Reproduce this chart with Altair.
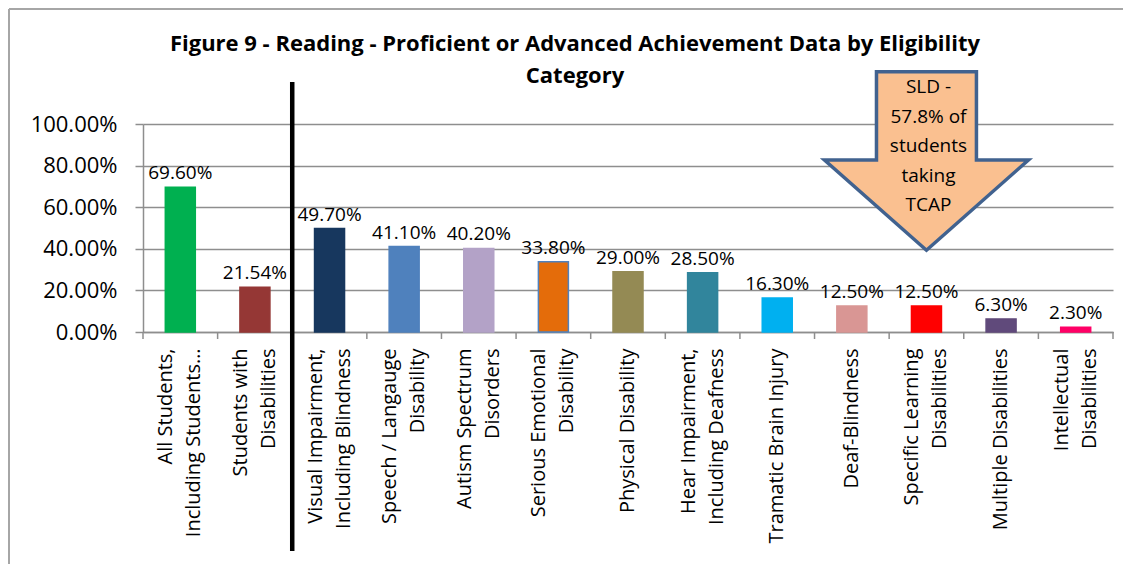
import altair as alt
import pandas as pd

# ---------------- data ----------------
label_lines = [
    ["All Students,", "Including Students…"],
    ["Students with", "Disabilities"],
    ["Visual Impairment,", "Including Blindness"],
    ["Speech / Langauge", "Disability"],
    ["Autism Spectrum", "Disorders"],
    ["Serious Emotional", "Disability"],
    ["Physical Disability"],
    ["Hear Impairment,", "Including Deafness"],
    ["Tramatic Brain Injury"],
    ["Deaf-Blindness"],
    ["Specific Learning", "Disabilities"],
    ["Multiple Disabilities"],
    ["Intellectual", "Disabilities"],
]
values = [0.696, 0.2154, 0.497, 0.411, 0.402, 0.338, 0.290, 0.285, 0.163, 0.125, 0.125, 0.063, 0.023]
colors = ["#00B050", "#953735", "#17375E", "#4F81BD", "#B3A2C7", "#E46C0A", "#948A54",
          "#31859C", "#00B0F0", "#D99694", "#FF0000", "#604A7B", "#FF0066"]
strokes = ["#00B050", "#953735", "#17375E", "#4F81BD", "#B3A2C7", "#4F81BD", "#948A54",
           "#31859C", "#00B0F0", "#D99694", "#FF0000", "#604A7B", "#FF0066"]
title_lines = ["Figure 9 - Reading - Proficient or Advanced Achievement Data by Eligibility", "Category"]
callout_lines = ["SLD -", "57.8% of", "students", "taking", "TCAP"]
callout_category = 10   # Specific Learning Disabilities
divider_category = 2    # divider before Visual Impairment

categories = ["|".join(l) for l in label_lines]
df = pd.DataFrame({"cat": categories, "value": values, "color": colors, "stroke": strokes})

FONT = "Open Sans"
GRID = "#8E8E8E"
W, H = 970, 208
LABEL_LH = 28

xenc = alt.X("cat:N", sort=categories, title=None,
             scale=alt.Scale(paddingInner=0, paddingOuter=0),
             axis=alt.Axis(labelExpr="split(datum.label, '|')", labelAngle=-90,
                           labelAlign="right", labelBaseline="middle",
                           labelFont=FONT, labelFontSize=20, labelLineHeight=LABEL_LH,
                           labelOffset={"condition": {"test": "indexof(datum.value, '|') >= 0",
                                                      "value": -LABEL_LH / 2},
                                        "value": 0},
                           labelColor="black", labelPadding=16, ticks=False, tickSize=0,
                           domain=True, domainColor=GRID, domainWidth=1.5,
                           labelLimit=400, labelOverlap=False))

base = alt.Chart(df)

bars = base.mark_bar(size=30, strokeWidth=1.5).encode(
    x=xenc,
    y=alt.Y("value:Q", title=None,
            scale=alt.Scale(domain=[0, 1], nice=False),
            axis=alt.Axis(values=[0, 0.2, 0.4, 0.6, 0.8, 1.0], format=".2%",
                          labelFont=FONT, labelFontSize=22, labelColor="black",
                          labelPadding=18, tickSize=8, tickColor=GRID, tickWidth=1.5,
                          domainColor=GRID, domainWidth=1.5,
                          grid=True, gridColor=GRID, gridWidth=1.5)),
    color=alt.Color("color:N", scale=None),
    stroke=alt.Stroke("stroke:N", scale=None),
)

labels = base.mark_text(baseline="bottom", dy=-4, font=FONT, fontSize=19, color="black").encode(
    x=alt.X("cat:N", sort=categories),
    y=alt.Y("value:Q"),
    text=alt.Text("value:Q", format=".2%"),
)

ticks = base.mark_rule(color=GRID, strokeWidth=1.5).encode(
    x=alt.X("cat:N", sort=categories, bandPosition=0),
    y=alt.value(H), y2=alt.value(H + 7),
)
end_tick = alt.Chart(df.iloc[[-1]]).mark_rule(color=GRID, strokeWidth=1.5).encode(
    x=alt.X("cat:N", sort=categories, bandPosition=1),
    y=alt.value(H), y2=alt.value(H + 7),
)

divider = alt.Chart(df.iloc[[divider_category]]).mark_rule(color="black", strokeWidth=4.5).encode(
    x=alt.X("cat:N", sort=categories, bandPosition=0),
    y=alt.value(-42), y2=alt.value(427),
)

arrow_path = "M-0.49,-0.875 L0.49,-0.875 L0.49,-0.01 L1,-0.01 L0,0.875 L-1,-0.01 L-0.49,-0.01 Z"
callout_df = df.iloc[[callout_category]]
arrow = alt.Chart(callout_df).mark_point(
    shape=arrow_path, size=41616, filled=True, fill="#FAC090", stroke="#41628F",
    strokeWidth=3.5, opacity=1, fillOpacity=1, strokeOpacity=1,
).encode(
    x=alt.X("cat:N", sort=categories),
    y=alt.value(37),
)
callout_text = alt.Chart(callout_df).mark_text(
    text=callout_lines, font=FONT, fontSize=19, lineHeight=29.5, baseline="middle",
    align="center", color="black", dx=2,
).encode(
    x=alt.X("cat:N", sort=categories),
    y=alt.value(-37),
)

title = alt.Chart(df.iloc[[0]]).mark_text(
    text=title_lines, font=FONT, fontSize=22, fontWeight="bold", lineHeight=32,
    baseline="middle", align="center", color="black",
).encode(x=alt.value(432), y=alt.value(-80))

frame_left = alt.Chart(df.iloc[[0]]).mark_rule(color="#A6A6A6", strokeWidth=2).encode(
    x=alt.value(-134), y=alt.value(-115), y2=alt.value(H + 240))
frame_top = alt.Chart(df.iloc[[0]]).mark_rule(color="#A6A6A6", strokeWidth=2).encode(
    x=alt.value(-134), x2=alt.value(W + 20), y=alt.value(-115))

chart = alt.layer(
    bars, labels, ticks, end_tick, divider, arrow, callout_text, title, frame_left, frame_top
).properties(
    width=W, height=H,
    autosize=alt.AutoSizeParams(type="none"),
    padding={"left": 135, "top": 116, "right": 10, "bottom": 232},
).configure_view(stroke=None)

chart.save("out.html", embed_options={"renderer": "svg", "actions": False})
